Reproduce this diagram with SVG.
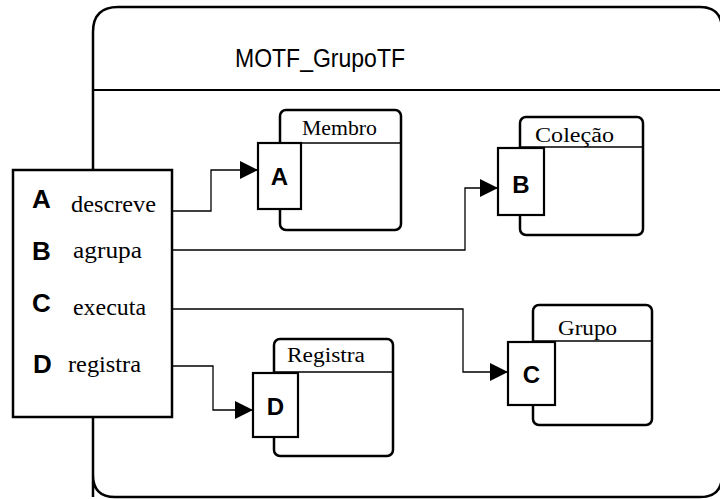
<svg xmlns="http://www.w3.org/2000/svg" width="720" height="499" viewBox="0 0 720 499">
<defs>
<marker id="arr" viewBox="0 0 10 10" refX="10" refY="5" markerWidth="20" markerHeight="18" markerUnits="userSpaceOnUse" orient="auto">
<path d="M0,0 L10,5 L0,10 Z" fill="#000"/>
</marker>
<style>
.frame{fill:#fff;stroke:#000;stroke-width:2.5}
.cls{fill:#fff;stroke:#000;stroke-width:2.5}
.hdr{stroke:#000;stroke-width:1.3;fill:none}
.port{fill:#fff;stroke:#000;stroke-width:2.2}
.conn{fill:none;stroke:#000;stroke-width:1.3;marker-end:url(#arr)}
.ser{font-family:"Liberation Serif","DejaVu Serif",serif;fill:#000}
.bold{font-family:"Liberation Sans",Arial,sans-serif;font-weight:bold;fill:#000}
.title{font-family:"Liberation Sans",Arial,sans-serif;fill:#000}
</style>
</defs>
<g id="frame">
<path class="frame" d="M93,497 L93,32 Q93,7 118,7 L700,7 Q722,7 722,30 L722,475 Q722,497 700,497 L115,497 Q93,497 93,475 Z"/>
<line class="hdr" x1="93" y1="90" x2="722" y2="90" style="stroke-width:2"/>
<text class="title" x="320" y="67" font-size="26" text-anchor="middle" textLength="170" lengthAdjust="spacingAndGlyphs">MOTF_GrupoTF</text>
</g>
<g id="interface">
<rect class="frame" x="13" y="170" width="159" height="247"/>
<text class="bold" x="32" y="208" font-size="26">A</text>
<text class="ser" x="71" y="212" font-size="23" textLength="85" lengthAdjust="spacingAndGlyphs">descreve</text>
<text class="bold" x="32" y="260" font-size="26">B</text>
<text class="ser" x="73" y="258" font-size="23" textLength="69" lengthAdjust="spacingAndGlyphs">agrupa</text>
<text class="bold" x="32" y="312" font-size="26">C</text>
<text class="ser" x="73" y="315" font-size="23" textLength="73" lengthAdjust="spacingAndGlyphs">executa</text>
<text class="bold" x="33" y="373" font-size="26">D</text>
<text class="ser" x="68" y="372" font-size="23" textLength="73" lengthAdjust="spacingAndGlyphs">registra</text>
</g>
<g id="connectors">
<path class="conn" d="M172,211 L211,211 L211,170 L258,170"/>
<path class="conn" d="M172,250 L465,250 L465,188 L498,188"/>
<path class="conn" d="M172,309 L463,309 L463,372 L508,372"/>
<path class="conn" d="M172,366 L213,366 L213,410 L253,410"/>
</g>
<g id="membro">
<rect class="cls" x="280" y="110" width="121" height="120" rx="6"/>
<line class="hdr" x1="280" y1="143" x2="401" y2="143"/>
<text class="ser" x="302" y="135" font-size="20" textLength="75" lengthAdjust="spacingAndGlyphs">Membro</text>
<rect class="port" x="258" y="143" width="43" height="66"/>
<text class="bold" x="279.5" y="185" font-size="24" text-anchor="middle">A</text>
</g>
<g id="colecao">
<rect class="cls" x="520" y="117" width="123" height="118" rx="6"/>
<line class="hdr" x1="520" y1="147" x2="643" y2="147"/>
<text class="ser" x="535" y="142" font-size="20" textLength="79" lengthAdjust="spacingAndGlyphs">Coleção</text>
<rect class="port" x="498" y="148" width="46" height="67"/>
<text class="bold" x="521" y="193" font-size="24" text-anchor="middle">B</text>
</g>
<g id="registra">
<rect class="cls" x="274" y="339" width="119" height="117" rx="6"/>
<line class="hdr" x1="274" y1="372" x2="393" y2="372"/>
<text class="ser" x="287" y="362" font-size="20" textLength="78" lengthAdjust="spacingAndGlyphs">Registra</text>
<rect class="port" x="253" y="373" width="45" height="64"/>
<text class="bold" x="275.5" y="415" font-size="24" text-anchor="middle">D</text>
</g>
<g id="grupo">
<rect class="cls" x="533" y="305" width="119" height="120" rx="6"/>
<line class="hdr" x1="533" y1="341" x2="652" y2="341"/>
<text class="ser" x="558" y="335" font-size="20" textLength="59" lengthAdjust="spacingAndGlyphs">Grupo</text>
<rect class="port" x="508" y="342" width="47" height="63"/>
<text class="bold" x="531.5" y="383" font-size="24" text-anchor="middle">C</text>
</g>
</svg>
